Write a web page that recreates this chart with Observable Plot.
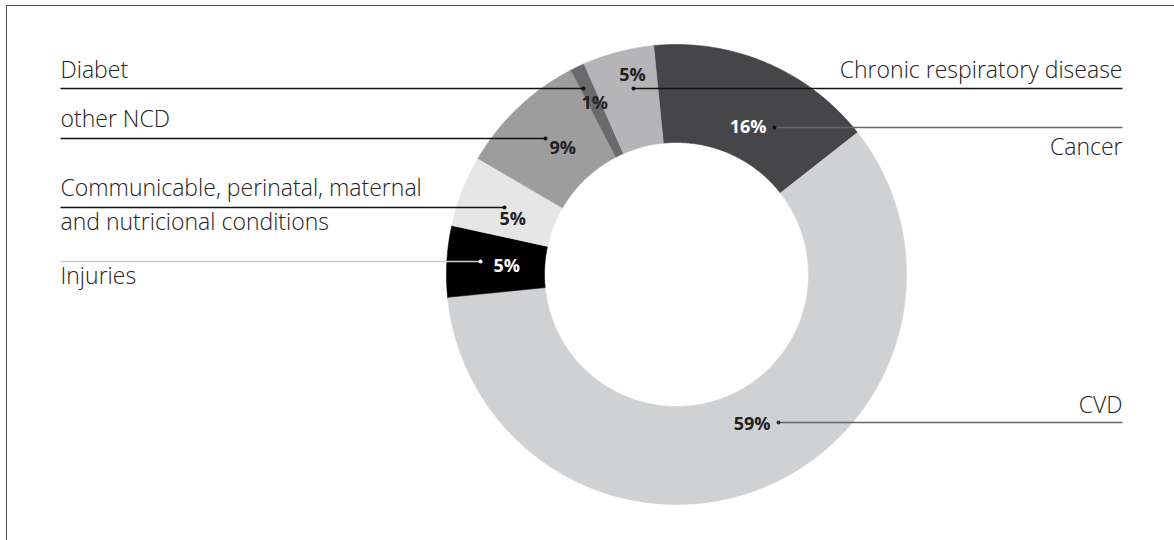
<!DOCTYPE html>
<html>
<head>
<meta charset="utf-8">
<script src="https://cdn.jsdelivr.net/npm/d3@7"></script>
<script src="https://cdn.jsdelivr.net/npm/@observablehq/plot@0.6"></script>
<style>
  html, body { margin: 0; padding: 0; background: #fff; overflow: hidden; }
  #frame { position: absolute; left: 6px; top: 5px; width: 1300px; height: 700px;
           border-top: 1.5px solid #555; border-left: 1.5px solid #555; }
  #chart { position: absolute; left: 0; top: 0; }
</style>
</head>
<body>
<div id="frame"></div>
<div id="chart"></div>
<script>
// ---- data (clockwise from the top, starting with Cancer) ----
const categories = ["Cancer", "CVD", "Injuries", "Communicable, perinatal, maternal and nutricional conditions", "other NCD", "Diabet", "Chronic respiratory disease"];
const values = [16, 59, 5, 5, 9, 1, 5];
const labelLines = [["Cancer"], ["CVD"], ["Injuries"], ["Communicable, perinatal, maternal", "and nutricional conditions"], ["other NCD"], ["Diabet"], ["Chronic respiratory disease"]];

// ---- styles / layout ----
const sliceColors = ["#464648", "#d0d1d3", "#000000", "#e6e6e6", "#9d9d9d", "#6a6a6c", "#b5b5b7"];
const pctColors   = ["#ffffff", "#222222", "#ffffff", "#222222", "#222222", "#222222", "#222222"];
const leaderColors = ["#666666", "#666666", "#cccccc", "#111111", "#111111", "#111111", "#111111"];
const dotColors   = ["#111111", "#333333", "#ffffff", "#111111", "#111111", "#111111", "#111111"];
const side        = ["right", "right", "left", "left", "left", "left", "right"];
const leaderY     = [127, 422, 261, 207, 138, 88, 88];
const dotX        = [774, 778, 480, 504, 545, 583, 633];
const labelBaseY  = [[154], [412], [283], [195, 229], [126], [77], [77]];
const pctPos      = [[766, 127, "end"], [770, 424, "end"], [493, 266, "start"], [499, 219, "start"], [549, 148, "start"], [581, 103, "start"], [632, 75, "middle"]];
const W = 1174, H = 540;
const cx = 676, cy = 274, R = 230, r0 = 132;
const leftX = 60, rightX = 1122;
const startDeg = -5.7;

// ---- geometry from the values ----
const pie = d3.pie().sort(null)
  .startAngle(startDeg * Math.PI / 180)
  .endAngle((360 + startDeg) * Math.PI / 180);
const arcs = pie(values);
const poly = [];
arcs.forEach((a, i) => {
  const n = Math.max(4, Math.ceil((a.endAngle - a.startAngle) / 0.01));
  const pts = [];
  for (let k = 0; k <= n; k++) {
    const t = a.startAngle + (a.endAngle - a.startAngle) * k / n;
    pts.push([cx + R * Math.sin(t), cy - R * Math.cos(t)]);
  }
  for (let k = n; k >= 0; k--) {
    const t = a.startAngle + (a.endAngle - a.startAngle) * k / n;
    pts.push([cx + r0 * Math.sin(t), cy - r0 * Math.cos(t)]);
  }
  pts.push(pts[0]);
  pts.forEach(p => poly.push({name: categories[i], x: p[0], y: p[1], color: sliceColors[i]}));
});

const leaders = categories.map((c, i) => ({
  name: c,
  x1: side[i] === "left" ? leftX : dotX[i],
  x2: side[i] === "left" ? dotX[i] : rightX,
  y: leaderY[i], color: leaderColors[i], dx: dotX[i], dot: dotColors[i]
}));

const catLabels = [];
categories.forEach((c, i) => {
  labelLines[i].forEach((t, j) => catLabels.push({
    text: t, x: side[i] === "left" ? leftX : rightX, y: labelBaseY[i][j],
    anchor: side[i] === "left" ? "start" : "end"
  }));
});

const pctLabels = categories.map((c, i) => ({
  text: Math.round(values[i]) + "%", x: pctPos[i][0], y: pctPos[i][1], anchor: pctPos[i][2], color: pctColors[i]
}));

const font = "'Open Sans', 'Noto Sans', sans-serif";

const plot = Plot.plot({
  width: W, height: H,
  margin: 0,
  x: {domain: [0, W], range: [0, W], axis: null},
  y: {domain: [0, H], range: [0, H], axis: null},
  color: {type: "identity"},
  style: {fontFamily: font, background: "transparent"},
  marks: [
    Plot.line(poly, {x: "x", y: "y", z: "name", fill: "color", stroke: "color", strokeWidth: 0.6, curve: "linear"}),
    Plot.link(leaders, {x1: "x1", x2: "x2", y1: "y", y2: "y", stroke: "color", strokeWidth: 1.3}),
    Plot.dot(leaders, {x: "dx", y: "y", r: 2, fill: "dot", stroke: null}),
    ...["start", "end"].map(a => Plot.text(catLabels.filter(d => d.anchor === a), {
      x: "x", y: "y", text: "text", textAnchor: a, lineAnchor: "bottom",
      fontSize: 23, fontWeight: 300, fill: "#222"
    })),
    ...["start", "end", "middle"].map(a => Plot.text(pctLabels.filter(d => d.anchor === a), {
      x: "x", y: "y", text: "text", textAnchor: a, lineAnchor: "middle",
      fontSize: 18, fontWeight: 700, fill: "color"
    }))
  ]
});
document.getElementById("chart").appendChild(plot);
</script>
</body>
</html>
